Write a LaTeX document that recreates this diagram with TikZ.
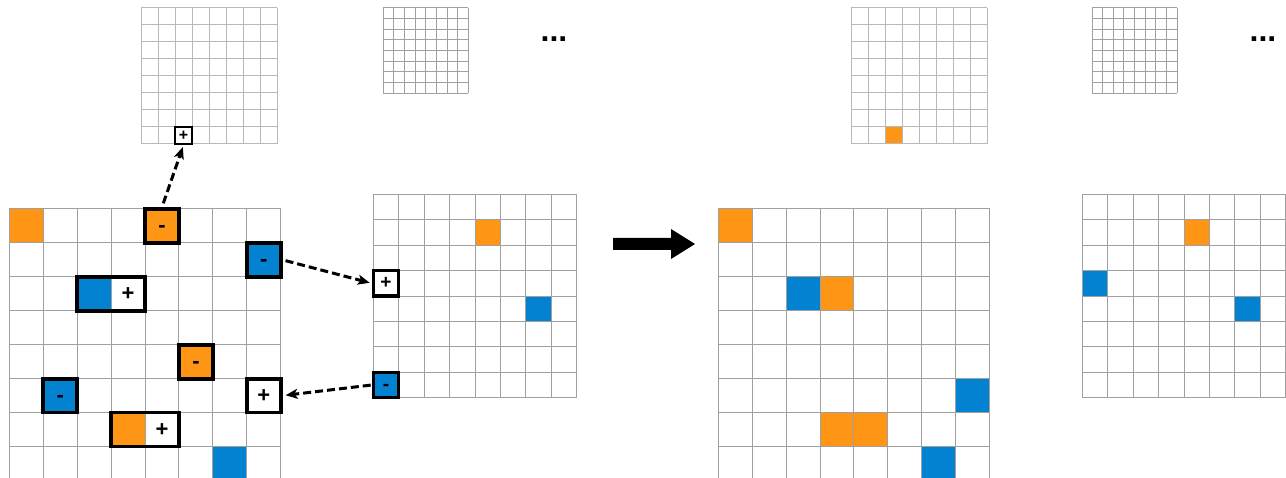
\documentclass[tikz,border=0pt]{standalone}
\usepackage{fontspec}
\setmainfont{Liberation Sans}
\usetikzlibrary{arrows.meta}
\definecolor{cor}{HTML}{FF9514}
\definecolor{cbl}{HTML}{0282D0}
\definecolor{glinebig}{HTML}{A0A0A0}
\definecolor{glinetop}{HTML}{B8B8B8}
\newcommand\mygrid[4]{% style x0 y0 c
  \foreach \k in {0,...,8}{
    \draw[#1] ({#2+\k*#4},#3) -- ({#2+\k*#4},{#3+8*#4});
    \draw[#1] (#2,{#3+\k*#4}) -- ({#2+8*#4},{#3+\k*#4});
  }}
\newcommand\mycell[6]{% color x0 y0 c i j
  \fill[#1] ({#2+#5*#4},{#3+#6*#4}) rectangle ++(#4,#4);}
\newcommand\sgn[1]{\vphantom{+}#1}
\begin{document}
\begin{tikzpicture}[x=1pt,y=-1pt,
  gbig/.style={glinebig,line width=1pt},
  gtop/.style={glinetop,line width=1pt},
  gdense/.style={glinebig,line width=1pt},
  cellbox/.style={draw=black,rectangle,inner sep=0pt,line width=3.8pt,font=\fontsize{22}{22}\selectfont\bfseries},
  midbox/.style={draw=black,rectangle,inner sep=0pt,line width=3.2pt,font=\fontsize{19}{19}\selectfont\bfseries},
  smallbox/.style={draw=black,rectangle,inner sep=0pt,line width=2.2pt,font=\fontsize{16}{16}\selectfont\bfseries},
  signtext/.style={inner sep=0pt,font=\fontsize{22}{22}\selectfont\bfseries},
  dotstext/.style={inner sep=0pt,font=\fontsize{32}{32}\selectfont\bfseries},
  dasharrow/.style={line width=3pt,dash pattern=on 8pt off 4pt,-{Stealth[length=12pt,width=10pt,inset=3pt]}}
]
\useasboundingbox (0,0) rectangle (1286,478);
\clip (0,0) rectangle (1286,478);

% ---------- left big grid ----------
\mycell{cor}{9.3}{209}{33.93}{0}{0}
\mycell{cor}{9.3}{209}{33.93}{4}{0}
\mycell{cor}{9.3}{209}{33.93}{5}{4}
\mycell{cor}{9.3}{209}{33.93}{3}{6}
\mycell{cbl}{9.3}{209}{33.93}{7}{1}
\mycell{cbl}{9.3}{209}{33.93}{2}{2}
\mycell{cbl}{9.3}{209}{33.93}{1}{5}
\mycell{cbl}{9.3}{209}{33.93}{6}{7}
\mygrid{gbig}{9.3}{209}{33.93}

% ---------- top small grids (left) ----------
\mygrid{gtop}{141}{8}{17}
\mygrid{gdense}{383.3}{8}{10.63}
\node[dotstext,anchor=base] (dotsA) at (554,41.7) {...};

% ---------- middle grid ----------
\mycell{cor}{373.3}{194.3}{25.43}{4}{1}
\mycell{cbl}{373.3}{194.3}{25.43}{6}{4}
\mycell{cbl}{373.3}{194.3}{25.43}{0}{7}
\mygrid{gbig}{373.3}{194.3}{25.43}

% ---------- boxes ----------
\node[cellbox,minimum size=33.93pt] (L40) at (161.99,225.97) {\sgn{-}};
\node[cellbox,minimum size=33.93pt] (L71) at (263.78,259.9) {\sgn{-}};
\node[cellbox,minimum width=67.86pt,minimum height=33.93pt] (L22) at (111.09,293.83) {};
\node[signtext] (L32t) at (128.06,293.83) {\sgn{+}};
\node[cellbox,minimum size=33.93pt] (L54) at (195.92,361.69) {\sgn{-}};
\node[cellbox,minimum size=33.93pt] (L15) at (60.2,395.62) {\sgn{-}};
\node[cellbox,minimum size=33.93pt] (L75) at (263.78,395.62) {\sgn{+}};
\node[cellbox,minimum width=67.86pt,minimum height=33.93pt] (L36) at (145.02,429.55) {};
\node[signtext] (L46t) at (161.99,429.55) {\sgn{+}};

\node[smallbox,minimum size=17pt] (T27) at (183.5,135.5) {\sgn{+}};

\node[midbox,minimum size=25.43pt] (M03) at (386.0,283.3) {\sgn{+}};
\node[midbox,minimum size=25.43pt] (M07) at (386.0,385.0) {\sgn{-}};

% ---------- dashed arrows ----------
\draw[dasharrow,shorten <=4pt,shorten >=2pt] (L40.north) -- (T27.south);
\draw[dasharrow,shorten <=3pt,shorten >=2pt] (L71.east) -- (M03.west);
\draw[dasharrow,shorten <=1pt,shorten >=3pt] (M07.west) -- (L75.east);

% ---------- big arrow ----------
\fill[black] (613,238) -- (671,238) -- (671,229) -- (695,244) -- (671,259) -- (671,250) -- (613,250) -- cycle;

% ---------- right big grid ----------
\mycell{cor}{718.3}{209}{33.9}{0}{0}
\mycell{cor}{718.3}{209}{33.9}{3}{2}
\mycell{cor}{718.3}{209}{33.9}{3}{6}
\mycell{cor}{718.3}{209}{33.9}{4}{6}
\mycell{cbl}{718.3}{209}{33.9}{2}{2}
\mycell{cbl}{718.3}{209}{33.9}{7}{5}
\mycell{cbl}{718.3}{209}{33.9}{6}{7}
\mygrid{gbig}{718.3}{209}{33.9}

% ---------- right top grids ----------
\mycell{cor}{851}{8}{17}{2}{7}
\mygrid{gtop}{851}{8}{17}
\mygrid{gdense}{1092}{8}{10.63}
\node[dotstext,anchor=base] (dotsB) at (1263,41.7) {...};

% ---------- right middle grid ----------
\mycell{cor}{1082.3}{194.3}{25.43}{4}{1}
\mycell{cbl}{1082.3}{194.3}{25.43}{0}{3}
\mycell{cbl}{1082.3}{194.3}{25.43}{6}{4}
\mygrid{gbig}{1082.3}{194.3}{25.43}
\end{tikzpicture}
\end{document}
